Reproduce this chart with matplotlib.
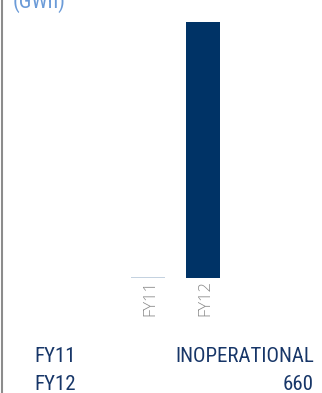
import matplotlib
matplotlib.use("Agg")
import matplotlib.pyplot as plt
from matplotlib import font_manager

# Generation by fiscal year (GWh); FY11 plant was not operating
years = ["FY11", "FY12"]
values = [0, 660]
table_text = ["INOPERATIONAL", "660"]
unit_label = "(GWh)"

W, H = 322, 393
fig = plt.figure(figsize=(W / 100, H / 100), dpi=100)
fig.patch.set_facecolor("white")

navy = "#003366"
baseline_col = "#b9c9da"
tick_col = "#8a8a8a"
text_col = "#173668"
unit_col = "#6b9bd8"

names = {f.name for f in font_manager.fontManager.ttflist}
narrow = {"family": "DejaVu Sans", "stretch": "condensed"}
for cand in ["Liberation Sans Narrow", "Roboto Condensed", "Open Sans Condensed"]:
    if cand in names:
        narrow = {"family": cand}
        break

# Plot area in pixel terms: x from 119.75 to 230.75, y from 22 to 278
left, right = 119.75, 230.75
top, bottom = 22, 278
ax = fig.add_axes([left / W, 1 - bottom / H, (right - left) / W, (bottom - top) / H])
ax.set_xlim(-0.5, 1.5)
ax.set_ylim(0, max(values))
ax.axis("off")

width = 34 / 55.5
xs = list(range(len(years)))
ax.bar(xs, values, width=width, color=navy, linewidth=0)
for x, v in zip(xs, values):
    if v == 0:
        ax.hlines(0, x - width / 2, x + width / 2, color=baseline_col, linewidth=1.2)

# rotated category labels under the bars
for x, name in zip(xs, years):
    ax.annotate(name, xy=(x, 0), xytext=(2, -1.5), textcoords="offset points",
                rotation=90, ha="center", va="top", color=tick_col,
                fontsize=12, family="Open Sans", fontweight="light")

# unit label, partly above the top edge
fig.text(13 / W, 1 - 8 / H, unit_label, color=unit_col, fontsize=15.5,
         ha="left", va="baseline", **narrow)

# summary rows
rows_y = [362, 390]
for name, txt, y in zip(years, table_text, rows_y):
    fig.text(34 / W, 1 - y / H, name, color=text_col, fontsize=15,
             ha="left", va="baseline", **narrow)
    fig.text(314 / W, 1 - y / H, txt, color=text_col, fontsize=15,
             ha="right", va="baseline", **narrow)

# left frame line
fig.add_artist(plt.Line2D([1.5 / W, 1.5 / W], [0, 1], color="#8c8c8c",
                          linewidth=1.5, transform=fig.transFigure))

fig.savefig("out.png", dpi=100, facecolor="white")
